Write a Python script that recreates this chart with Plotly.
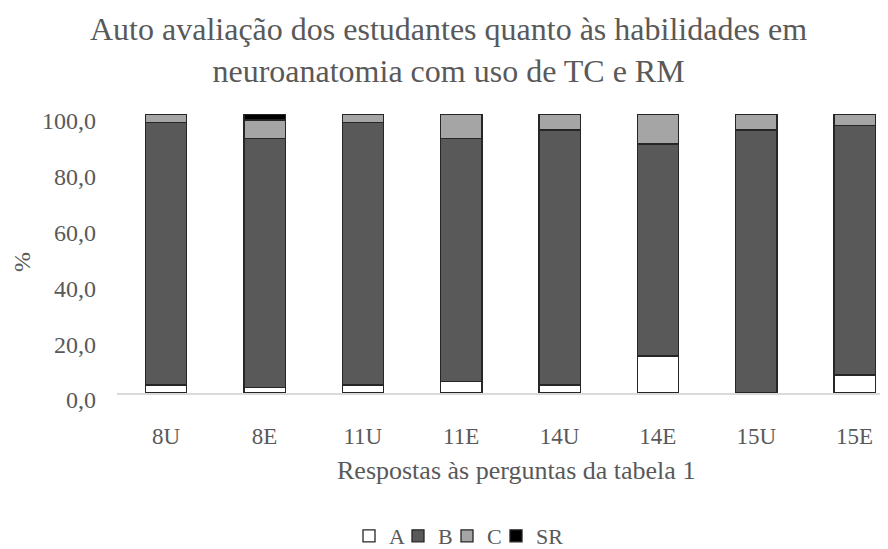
import plotly.graph_objects as go

categories = ["8U", "8E", "11U", "11E", "14U", "14E", "15U", "15E"]
A = [2.9, 2.0, 2.9, 4.0, 2.9, 13.3, 0.0, 6.5]
B = [94.1, 89.3, 94.1, 87.3, 91.4, 75.9, 94.3, 89.3]
C = [3.0, 6.5, 3.0, 8.7, 5.7, 10.8, 5.7, 4.2]
SR = [0.0, 2.2, 0.0, 0.0, 0.0, 0.0, 0.0, 0.0]

series = [("A", A, "#ffffff"), ("B", B, "#595959"), ("C", C, "#a5a5a5"), ("SR", SR, "#000000")]

font_family = "Liberation Serif"
grey = "#595959"

# the page body adds an 8px margin; work in page pixels and subtract it
OFF = 8
W, H = 888 - OFF, 549 - OFF

fig = go.Figure()
for name, vals, col in series:
    fig.add_trace(go.Bar(
        x=categories, y=vals, name=name,
        marker=dict(color=col, line=dict(color="#262626", width=1.3)),
        width=0.42,
    ))
# empty spacer entry so that the last legend label is not clipped
fig.add_trace(go.Bar(
    x=[None], y=[None], name=" ", hoverinfo="skip",
    marker=dict(color="rgba(0,0,0,0)", line=dict(width=0)),
))

PLOT_TOP, PLOT_BOTTOM, PLOT_LEFT = 114 - OFF, 393 - OFF, 117 - OFF
ph = PLOT_BOTTOM - PLOT_TOP
pw = W - PLOT_LEFT

def py(pix):
    return (PLOT_BOTTOM - (pix - OFF)) / ph

def px(pix):
    return ((pix - OFF) - PLOT_LEFT) / pw

fig.update_layout(
    barmode="stack",
    width=W, height=H,
    paper_bgcolor="white", plot_bgcolor="white",
    separators=",.",
    font=dict(family=font_family, color=grey),
    margin=dict(l=PLOT_LEFT, r=0, t=PLOT_TOP, b=H - PLOT_BOTTOM, autoexpand=False),
    xaxis=dict(
        range=[-0.5, 7.34], automargin=False,
        showline=True, linecolor="#d9d9d9", linewidth=1.5,
        ticks="", tickfont=dict(size=23, color=grey), ticklabelstandoff=22,
        showgrid=False,
    ),
    yaxis=dict(
        range=[0, 100], tickvals=[0, 20, 40, 60, 80, 100], tickformat=".1f",
        automargin=False,
        showline=False, showgrid=False, zeroline=False, ticks="",
        tickfont=dict(size=24, color=grey), ticklabelshift=7, ticklabelstandoff=20,
    ),
    legend=dict(
        orientation="h", x=px(349), xanchor="left", y=py(536), yanchor="middle",
        font=dict(size=22, color=grey), traceorder="normal",
        itemwidth=30, entrywidth=4, entrywidthmode="pixels",
    ),
    annotations=[
        dict(text="Auto avaliação dos estudantes quanto às habilidades em<br>neuroanatomia com uso de TC e RM",
             xref="paper", yref="paper", x=px(448), y=py(50), xanchor="center", yanchor="middle",
             showarrow=False, font=dict(size=32, color=grey, family=font_family)),
        dict(text="Respostas às perguntas da tabela 1",
             xref="paper", yref="paper", x=px(516), y=py(470), xanchor="center", yanchor="middle",
             showarrow=False, font=dict(size=26, color=grey, family=font_family)),
        dict(text="%", textangle=-90,
             xref="paper", yref="paper", x=px(22), y=py(262), xanchor="center", yanchor="middle",
             showarrow=False, font=dict(size=24, color=grey, family=font_family)),
    ],
)

fig.write_html("out.html")
